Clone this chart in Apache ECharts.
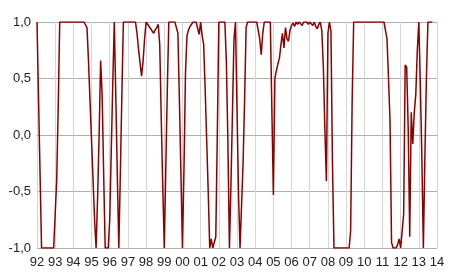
<!DOCTYPE html>
<html>
<head>
<meta charset="utf-8">
<script src="https://cdn.jsdelivr.net/npm/echarts@6/dist/echarts.min.js"></script>
<style>
html,body{margin:0;padding:0;background:#fff;}
#chart{width:450px;height:279px;}
</style>
</head>
<body>
<div id="chart"></div>
<script>
// Tick labels (years)
var tickLabels = ['92','93','94','95','96','97','98','99','00','01','02','03','04','05','06','07','08','09','10','11','12','13','14'];

// Monthly values by year
var v1992 = [1.0, 0.33, -0.33, -1, -1, -1, -1, -1, -1, -1, -1, -1];
var v1993 = [-1, -0.4, 0.25, 1, 1, 1, 1, 1, 1, 1, 1, 1];
var v1994 = [1, 1, 1, 1, 1, 1, 1, 1, 1, 0.95, 0.65, 0.3];
var v1995 = [-0.05, -0.4, -0.75, -1.0, -0.55, 0.0, 0.66, 0.35, -0.35, -1, -1, -1];
var v1996 = [-0.75, -0.15, 0.45, 1.0, 0.35, -0.35, -1.0, -0.35, 0.35, 1.0, 1, 1];
var v1997 = [1, 1, 1, 1, 1, 1, 0.9, 0.76, 0.64, 0.52, 0.65, 0.85];
var v1998 = [1.0, 0.98, 0.96, 0.94, 0.92, 0.9, 0.93, 0.95, 0.98, 0.8, 0.15, -0.45];
var v1999 = [-1.0, -0.3, 0.4, 1, 1, 1, 1, 1, 1, 0.9, 0.3, -0.35];
var v2000 = [-1.0, -0.3, 0.55, 0.88, 0.93, 0.96, 0.98, 1, 1, 1, 1, 0.89];
var v2001 = [1.0, 0.88, 0.8, 0.4, -0.05, -0.5, -1, -0.92, -1, -1, -0.9, 0.0];
var v2002 = [1, 1, 1, 1, 1, 0.64, -0.07, -1.0, -0.45, 0.2, 0.85, 1.0];
var v2003 = [0.24, -0.52, -1.0, -1.0, -0.25, 0.3, 0.95, 1, 1, 1, 1, 1];
var v2004 = [1, 1, 1, 0.85, 0.71, 0.9, 1, 1, 1, 1, 1, 1];
var v2005 = [-0.53, 0.5, 0.57, 0.63, 0.68, 0.8, 0.9, 0.77, 0.95, 0.85, 0.83, 0.93];
var v2006 = [0.97, 0.99, 0.96, 1.0, 0.98, 1.0, 0.99, 0.97, 1.0, 0.99, 1.0, 0.98];
var v2007 = [1.0, 0.99, 0.97, 1.0, 0.96, 0.94, 0.98, 1.0, 0.92, 0.6, 0.05, -0.41];
var v2008 = [0.9, 1.0, 0.92, -0.25, -1, -1, -1, -1, -1, -1, -1, -1];
var v2009 = [-1, -1, -1, -0.85, 0.3, 1, 1, 1, 1, 1, 1, 1];
var v2010 = [1, 1, 1, 1, 1, 1, 1, 1, 1, 1, 1, 1];
var v2011 = [1, 1, 1.0, 0.85, 0.5, 0.12, -0.95, -1, -1, -1, -0.97, -0.92];
var v2012 = [-1, -1, -0.7, 0.62, 0.6, 0.05, -0.9, 0.2, -0.08, 0.2, 0.36, 0.75];
var v2013 = [1.0, 0.45, -0.2, -1.0, -0.2, 0.5, 1.0, 1.0, 1.0, 1.0];

var values = [].concat(v1992, v1993, v1994, v1995, v1996, v1997, v1998, v1999, v2000,
  v2001, v2002, v2003, v2004, v2005, v2006, v2007, v2008, v2009, v2010, v2011, v2012, v2013);

// Month categories Jan 1992 .. Jan 2014
var categories = [];
for (var y = 1992; y <= 2014; y++) {
  for (var m = 1; m <= 12; m++) {
    categories.push(y + '-' + (m < 10 ? '0' + m : m));
    if (y === 2014) break;
  }
}

var isJan = function (idx) { return idx % 12 === 0; };

var chart = echarts.init(document.getElementById('chart'), null, {renderer: 'canvas'});
chart.setOption({
  animation: false,
  backgroundColor: '#ffffff',
  grid: {left: 37, right: 13, top: 22, bottom: 31},
  xAxis: {
    type: 'category',
    data: categories,
    boundaryGap: false,
    axisLine: {show: true, lineStyle: {color: '#b0b0b0', width: 1}},
    axisTick: {show: false},
    axisLabel: {
      interval: function (idx) { return isJan(idx); },
      formatter: function (val, idx) { return tickLabels[Math.round(idx / 12)]; },
      color: '#222',
      fontFamily: 'Liberation Sans, Arial, sans-serif',
      fontSize: 13,
      margin: 8
    },
    splitLine: {show: true, interval: function (idx) { return isJan(idx); }, lineStyle: {color: '#d6d6d6', width: 1}}
  },
  yAxis: {
    type: 'value',
    min: -1, max: 1, interval: 0.5,
    axisLine: {show: false},
    axisTick: {show: false},
    axisLabel: {
      formatter: function (v) { return v.toFixed(1).replace('.', ','); },
      color: '#222',
      fontFamily: 'Liberation Sans, Arial, sans-serif',
      fontSize: 13,
      margin: 6
    },
    splitLine: {show: true, lineStyle: {color: '#b0b0b0', width: 1}}
  },
  series: [{
    type: 'line',
    data: values,
    showSymbol: false,
    symbol: 'none',
    lineStyle: {color: '#8b0000', width: 1.5},
    itemStyle: {color: '#8b0000'}
  }]
});
</script>
</body>
</html>
